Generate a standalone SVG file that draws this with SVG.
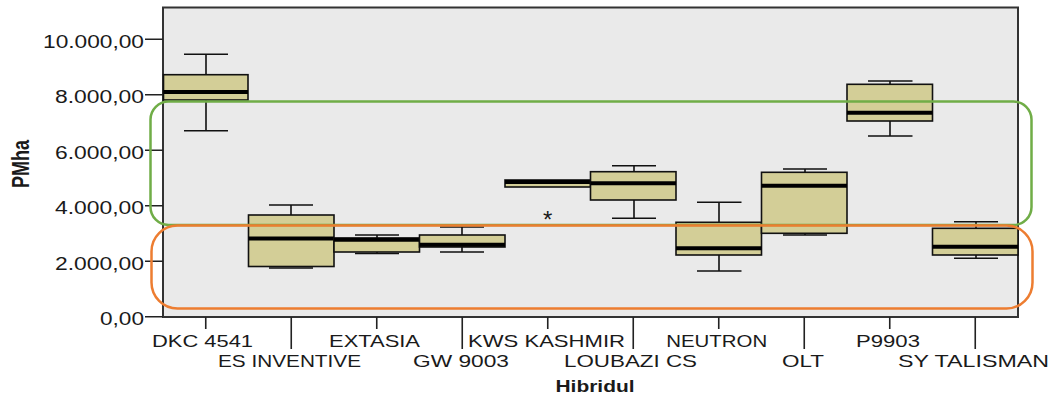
<svg xmlns="http://www.w3.org/2000/svg" width="1051" height="400" viewBox="0 0 1051 400">
<style>
text{font-family:"Liberation Sans",Arial,sans-serif;fill:#1a1a1a}
.yl{font-size:18px;text-anchor:end}
.xl{font-size:17px;text-anchor:middle}
.tk{stroke:#222;stroke-width:1.6;fill:none}
.bx{fill:#D3CE97;stroke:#111;stroke-width:1.6}
.md{stroke:#000;stroke-width:4}
.wh{stroke:#111;stroke-width:1.6;fill:none}
</style>
<rect width="1051" height="400" fill="#fff"/>
<g id="plot">
<rect x="163" y="7.5" width="855" height="309.5" fill="#EAEAEA" stroke="#333" stroke-width="2"/>
</g>
<g id="yaxis">
<path class="tk" d="M145 39.3H163M145 94.8H163M145 150.3H163M145 205.7H163M145 261.2H163M145 316.7H163"/>
<text class="yl" x="144" y="47.5" textLength="101" lengthAdjust="spacingAndGlyphs">10.000,00</text>
<text class="yl" x="144" y="103" textLength="89" lengthAdjust="spacingAndGlyphs">8.000,00</text>
<text class="yl" x="144" y="158.5" textLength="89" lengthAdjust="spacingAndGlyphs">6.000,00</text>
<text class="yl" x="144" y="214" textLength="89" lengthAdjust="spacingAndGlyphs">4.000,00</text>
<text class="yl" x="144" y="269.5" textLength="89" lengthAdjust="spacingAndGlyphs">2.000,00</text>
<text class="yl" x="144" y="325" textLength="44" lengthAdjust="spacingAndGlyphs">0,00</text>
<text transform="translate(29,164) scale(1.28,1) rotate(-90)" text-anchor="middle" font-size="18" font-weight="bold">PMha</text>
</g>
<g id="xaxis">
<path class="tk" d="M205.75 317V329M291.25 317V349M376.75 317V329M462.25 317V349M547.75 317V329M633.25 317V349M718.75 317V329M804.25 317V349M889.75 317V329M975.25 317V349"/>
<text class="xl" x="202.5" y="346.5" textLength="101" lengthAdjust="spacingAndGlyphs">DKC 4541</text>
<text class="xl" x="289.5" y="366.5" textLength="143" lengthAdjust="spacingAndGlyphs">ES INVENTIVE</text>
<text class="xl" x="374.5" y="346.5" textLength="91" lengthAdjust="spacingAndGlyphs">EXTASIA</text>
<text class="xl" x="461" y="366.5" textLength="96" lengthAdjust="spacingAndGlyphs">GW 9003</text>
<text class="xl" x="546.5" y="346.5" textLength="157" lengthAdjust="spacingAndGlyphs">KWS KASHMIR</text>
<text class="xl" x="630.5" y="366.5" textLength="133" lengthAdjust="spacingAndGlyphs">LOUBAZI CS</text>
<text class="xl" x="716.7" y="346.5" textLength="101" lengthAdjust="spacingAndGlyphs">NEUTRON</text>
<text class="xl" x="803" y="366.5" textLength="42" lengthAdjust="spacingAndGlyphs">OLT</text>
<text class="xl" x="888" y="346.5" textLength="64" lengthAdjust="spacingAndGlyphs">P9903</text>
<text class="xl" x="973.5" y="366.5" textLength="151" lengthAdjust="spacingAndGlyphs">SY TALISMAN</text>
<text x="595" y="392" text-anchor="middle" font-size="16" font-weight="bold" textLength="79" lengthAdjust="spacingAndGlyphs">Hibridul</text>
</g>
<g id="box-dkc">
<path class="wh" d="M184 54.3H228M206 54.3V74.7M206 100V130.7M184 130.7H228"/>
<rect class="bx" x="163.5" y="74.7" width="84.5" height="25.3"/>
<path class="md" d="M163.5 92H248"/>
</g>
<g id="box-es">
<path class="wh" d="M269 205H313M291 205V215M269 268H313"/>
<rect class="bx" x="248.5" y="215" width="85.5" height="51.5"/>
<path class="md" d="M248.5 238.5H334"/>
</g>
<g id="box-extasia">
<path class="wh" d="M355 235H399M377 235V238M377 252V253.5M355 253.5H399"/>
<rect class="bx" x="334" y="238" width="85.5" height="14"/>
<path class="md" d="M334 239.7H419.5"/>
</g>
<g id="box-gw">
<path class="wh" d="M440 227H484M462 227V235M462 247V252M440 252H484"/>
<rect class="bx" x="419.5" y="235" width="85.5" height="12"/>
<path class="md" d="M419.5 244.7H505"/>
</g>
<g id="box-kws">
<rect class="bx" x="505" y="180" width="85.5" height="7"/>
<path class="md" d="M505 182H590.5"/>
<text x="547.7" y="227.5" text-anchor="middle" font-size="24">*</text>
</g>
<g id="box-loubazi">
<path class="wh" d="M612 165.7H656M634 165.7V171.7M634 200V218.3M612 218.3H656"/>
<rect class="bx" x="590.5" y="171.7" width="85.5" height="28.3"/>
<path class="md" d="M590.5 183.3H676"/>
</g>
<g id="box-neutron">
<path class="wh" d="M697 202.3H741.5M719 202.3V222.3M719 255V271M697 271H741.5"/>
<rect class="bx" x="676" y="222.3" width="85.5" height="32.7"/>
<path class="md" d="M676 248.3H761.5"/>
</g>
<g id="box-olt">
<path class="wh" d="M783 169H827M805 169V172.3M805 233.3V235M783 235H827"/>
<rect class="bx" x="761.5" y="172.3" width="85.5" height="61"/>
<path class="md" d="M761.5 185.7H847"/>
</g>
<g id="box-p9903">
<path class="wh" d="M868 81H912.5M890 81V84.3M890 121V136M868 136H912.5"/>
<rect class="bx" x="847" y="84.3" width="85.5" height="36.7"/>
<path class="md" d="M847 112.7H932.5"/>
</g>
<g id="box-sy">
<path class="wh" d="M954 221.7H998M976 221.7V228.3M976 255V258.3M954 258.3H998"/>
<rect class="bx" x="932.5" y="228.3" width="85.5" height="26.7"/>
<path class="md" d="M932.5 246.7H1018"/>
</g>
<g id="highlights">
<rect id="green-group" x="150.5" y="101.5" width="881" height="123.5" rx="18" fill="none" stroke="#70AD47" stroke-width="2.5"/>
<rect id="orange-group" x="151.5" y="225.5" width="881" height="83" rx="26" fill="none" stroke="#ED7D31" stroke-width="2.5"/>
</g>
</svg>
